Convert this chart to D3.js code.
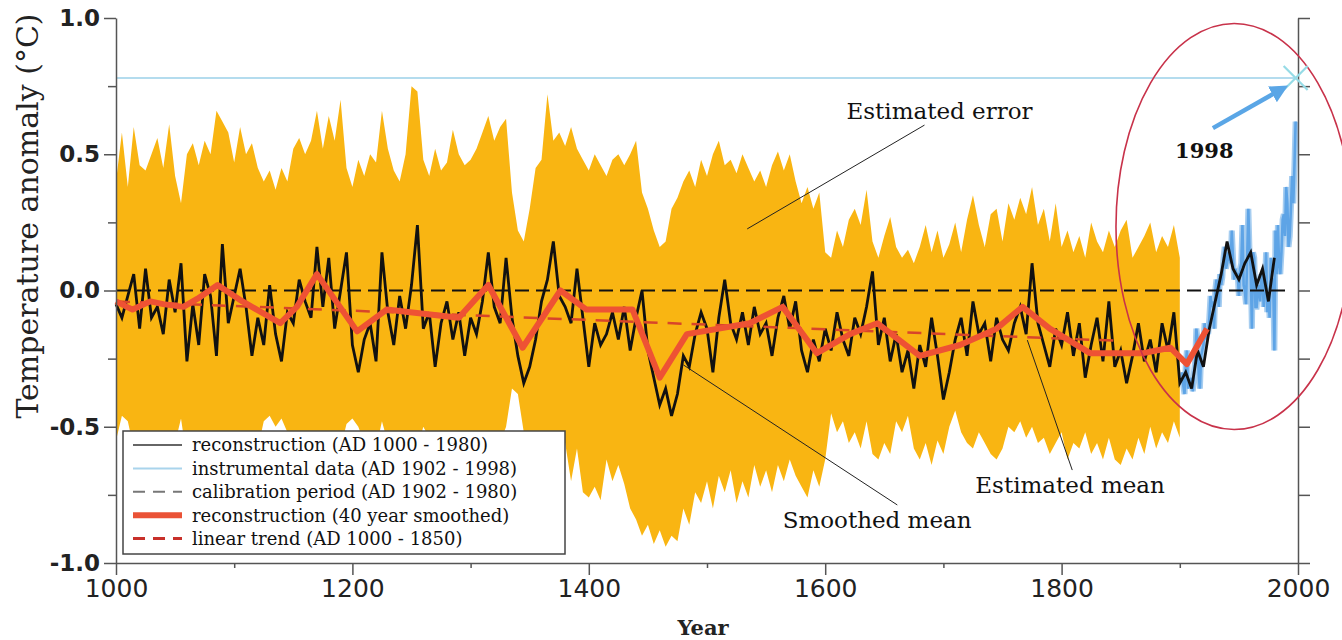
<!DOCTYPE html>
<html><head><meta charset="utf-8">
<script src="https://cdn.jsdelivr.net/npm/d3@7"></script>
<style>html,body{margin:0;padding:0;background:#fff;} svg{display:block;}</style>
</head><body>
<svg id="chart" width="1342" height="640"></svg>
<script>
// ---------------- DATA ----------------
const xTickValues = [1000, 1200, 1400, 1600, 1800, 2000];
const xMinorTicks = [1100, 1300, 1500, 1700, 1900];
const yTickValues = [-1.0, -0.5, 0.0, 0.5, 1.0];
const yMinorTicks = [-0.75, -0.25, 0.25, 0.75];

// reconstruction AD 1000-1980, one value every 5 years
const reconStart = 1000, reconStep = 5;
const reconValues = [
 -0.05,-0.10,-0.02, 0.06,-0.14, 0.08,-0.10,-0.06,-0.16, 0.04,
 -0.08, 0.10,-0.26,-0.05,-0.20, 0.06,-0.02,-0.24, 0.17,-0.12,
 -0.02, 0.08,-0.06,-0.24,-0.10,-0.20, 0.02,-0.16,-0.26,-0.08,
 -0.12, 0.04,-0.04,-0.10, 0.16,-0.06, 0.12,-0.14, 0.00, 0.14,
 -0.20,-0.30,-0.18,-0.12,-0.26, 0.14,-0.08,-0.20,-0.02,-0.14,
  0.02, 0.24,-0.14,-0.08,-0.28,-0.12,-0.04,-0.18,-0.08,-0.24,
 -0.10,-0.16,-0.04, 0.14,-0.06,-0.12, 0.12,-0.10,-0.24,-0.34,
 -0.28,-0.18,-0.04, 0.04, 0.18,-0.02,-0.06,-0.12, 0.08,-0.10,
 -0.28,-0.12,-0.20,-0.16,-0.08,-0.18,-0.06,-0.22,-0.10, 0.00,
 -0.22,-0.32,-0.42,-0.36,-0.46,-0.38,-0.24,-0.28,-0.16,-0.08,
 -0.14,-0.30,-0.10, 0.04,-0.12,-0.18,-0.08,-0.20,-0.06,-0.16,
 -0.12,-0.24,-0.10,-0.02,-0.14,-0.04,-0.22,-0.30,-0.18,-0.26,
 -0.14,-0.22,-0.08,-0.18,-0.24,-0.10,-0.16,-0.06, 0.07,-0.20,
 -0.10,-0.26,-0.16,-0.30,-0.22,-0.36,-0.20,-0.28,-0.10,-0.24,
 -0.40,-0.30,-0.18,-0.10,-0.24,-0.04,-0.16,-0.12,-0.26,-0.10,
 -0.18,-0.22,-0.12,-0.06,-0.16, 0.10,-0.12,-0.20,-0.28,-0.14,
 -0.20,-0.08,-0.24,-0.12,-0.32,-0.20,-0.10,-0.26,-0.04,-0.28,
 -0.22,-0.34,-0.24,-0.12,-0.26,-0.18,-0.30,-0.12,-0.22,-0.08,
 -0.34,-0.30,-0.36,-0.22,-0.28,-0.14,-0.04, 0.06, 0.18, 0.08,
  0.04, 0.10, 0.14, 0.02, 0.08,-0.04, 0.12
];

// estimated error band AD 1000-1900, every 5 years
const bandStart = 1000, bandStep = 5;
const bandUpper = [
 0.40,0.58,0.38,0.60,0.46,0.44,0.50,0.56,0.45,0.61,
 0.42,0.32,0.50,0.54,0.46,0.55,0.50,0.66,0.62,0.58,
 0.47,0.60,0.50,0.54,0.45,0.40,0.44,0.37,0.45,0.40,
 0.52,0.56,0.50,0.55,0.66,0.52,0.64,0.55,0.70,0.45,
 0.38,0.48,0.42,0.50,0.47,0.66,0.52,0.44,0.40,0.50,
 0.75,0.73,0.48,0.42,0.52,0.44,0.47,0.59,0.50,0.46,
 0.48,0.52,0.58,0.64,0.55,0.60,0.63,0.36,0.22,0.18,
 0.30,0.45,0.48,0.72,0.55,0.58,0.53,0.60,0.52,0.48,
 0.44,0.50,0.46,0.42,0.48,0.50,0.46,0.50,0.55,0.36,
 0.30,0.22,0.16,0.18,0.30,0.34,0.40,0.44,0.38,0.48,
 0.42,0.50,0.55,0.46,0.48,0.43,0.50,0.45,0.40,0.44,
 0.38,0.46,0.51,0.44,0.50,0.40,0.32,0.38,0.30,0.36,
 0.14,0.12,0.22,0.16,0.26,0.30,0.24,0.37,0.18,0.12,
 0.20,0.27,0.16,0.12,0.15,0.10,0.16,0.24,0.14,0.22,
 0.12,0.17,0.25,0.14,0.26,0.35,0.24,0.16,0.28,0.30,
 0.18,0.32,0.26,0.34,0.28,0.38,0.24,0.30,0.18,0.32,
 0.16,0.22,0.14,0.20,0.12,0.25,0.18,0.14,0.22,0.16,
 0.22,0.26,0.12,0.16,0.20,0.25,0.14,0.20,0.16,0.24,
 0.12
];
const bandLower = [
 -0.55,-0.46,-0.48,-0.58,-0.62,-0.58,-0.60,-0.62,-0.58,-0.60,
 -0.56,-0.47,-0.62,-0.58,-0.64,-0.56,-0.58,-0.62,-0.55,-0.60,
 -0.58,-0.55,-0.60,-0.64,-0.58,-0.48,-0.46,-0.50,-0.47,-0.52,
 -0.58,-0.56,-0.60,-0.58,-0.56,-0.60,-0.58,-0.62,-0.58,-0.49,
 -0.47,-0.50,-0.56,-0.60,-0.58,-0.48,-0.56,-0.60,-0.58,-0.62,
 -0.56,-0.58,-0.50,-0.54,-0.60,-0.56,-0.58,-0.60,-0.58,-0.62,
 -0.60,-0.58,-0.56,-0.60,-0.58,-0.56,-0.50,-0.36,-0.38,-0.52,
 -0.56,-0.58,-0.60,-0.56,-0.58,-0.60,-0.56,-0.70,-0.58,-0.74,
 -0.76,-0.72,-0.77,-0.62,-0.70,-0.64,-0.71,-0.80,-0.84,-0.90,
 -0.86,-0.93,-0.88,-0.94,-0.90,-0.92,-0.80,-0.86,-0.74,-0.78,
 -0.70,-0.80,-0.68,-0.74,-0.66,-0.78,-0.70,-0.76,-0.64,-0.72,
 -0.66,-0.74,-0.64,-0.70,-0.62,-0.68,-0.72,-0.76,-0.66,-0.72,
 -0.62,-0.45,-0.52,-0.48,-0.56,-0.52,-0.58,-0.48,-0.60,-0.62,
 -0.56,-0.60,-0.48,-0.52,-0.46,-0.58,-0.62,-0.56,-0.64,-0.55,
 -0.60,-0.50,-0.44,-0.52,-0.56,-0.58,-0.52,-0.56,-0.60,-0.62,
 -0.58,-0.50,-0.52,-0.48,-0.54,-0.50,-0.56,-0.54,-0.60,-0.56,
 -0.52,-0.62,-0.56,-0.58,-0.52,-0.60,-0.56,-0.62,-0.54,-0.62,
 -0.64,-0.58,-0.62,-0.54,-0.60,-0.50,-0.58,-0.52,-0.56,-0.48,
 -0.54
];

// instrumental data AD 1902-1998, yearly
const instStart = 1902;
const instValues = [
 -0.30,-0.35,-0.38,-0.28,-0.22,-0.36,-0.33,-0.35,-0.32,-0.37,
 -0.30,-0.26,-0.14,-0.18,-0.31,-0.36,-0.24,-0.22,-0.20,-0.12,
 -0.18,-0.14,-0.16,-0.10,-0.02,-0.06,-0.04,-0.14, 0.00, 0.04,
  0.02,-0.06, 0.06, 0.02, 0.05, 0.12, 0.16, 0.08, 0.10, 0.14,
  0.12, 0.10, 0.22, 0.12, 0.04, 0.08, 0.06, 0.06,-0.02, 0.08,
  0.10, 0.24, 0.02, 0.00,-0.05, 0.12, 0.30, 0.14, 0.08,-0.14,
  0.14, 0.12,-0.06,-0.06, 0.00, 0.02,-0.04, 0.06, 0.04,-0.06,
  0.02, 0.14,-0.08,-0.02,-0.10, 0.12, 0.04, 0.04,-0.22, 0.22,
  0.06, 0.24, 0.10, 0.06, 0.14, 0.26, 0.28, 0.20, 0.38, 0.32,
  0.16, 0.20, 0.30, 0.42, 0.32, 0.46, 0.62
];

// 40-year smoothed reconstruction (vertices)
const smoothYears  = [1000,1014,1029,1040,1057,1069,1086,1107,1139,1153,1170,1204,1229,1249,1290,1315,1344,1376,1398,1437,1460,1483,1536,1564,1593,1621,1644,1680,1714,1745,1767,1790,1824,1869,1892,1906,1923];
const smoothValues = [-0.04,-0.07,-0.04,-0.05,-0.06,-0.03,0.02,-0.04,-0.12,-0.06,0.06,-0.15,-0.07,-0.08,-0.10,0.02,-0.21,0.00,-0.07,-0.07,-0.32,-0.16,-0.12,-0.06,-0.23,-0.16,-0.12,-0.24,-0.20,-0.14,-0.06,-0.14,-0.23,-0.23,-0.21,-0.27,-0.14];

// linear trend AD 1000-1850
const trendYears  = [1000, 1850];
const trendValues = [-0.04, -0.185];

// zero (calibration) reference and 1998 level
const zeroYears = [1000, 1990];
const level1998Years = [1000, 1998];
const level1998 = 0.78;

// annotations in data units
const ellipseCenter = [1946, 0.235], ellipseHalf = [100, 0.745];
const arrowFrom = [1928, 0.596], arrowTo = [1985, 0.736];
const annoTexts = [
  {t:"Estimated error", yr:1618, v:0.63},
  {t:"Estimated mean",  yr:1727, v:-0.743},
  {t:"Smoothed mean",   yr:1564, v:-0.872}
];
const pointerLines = [
  [[1684, 0.607],[1534, 0.226]],
  [[1771,-0.182],[1809,-0.659]],
  [[1480,-0.273],[1661,-0.787]]
];
const legendItems = [
  {label:"reconstruction (AD 1000 - 1980)", color:"#333", w:1.5, dash:null},
  {label:"instrumental data (AD 1902 - 1998)", color:"#a9d4ec", w:2, dash:null},
  {label:"calibration period (AD 1902 - 1980)", color:"#777", w:2, dash:"12,8"},
  {label:"reconstruction (40 year smoothed)", color:"#ea5236", w:6, dash:null},
  {label:"linear trend (AD 1000 - 1850)", color:"#c8302a", w:3, dash:"12,8"}
];

// ---------------- CHART ----------------
const svg = d3.select("#chart");
const x = d3.scaleLinear().domain([1000, 2000]).range([116, 1298]);
const y = d3.scaleLinear().domain([-1, 1]).range([563, 18]);
const serif = "'DejaVu Serif', serif";
const sans = "'DejaVu Sans', sans-serif";

const band = bandUpper.map((u, i) => ({yr: bandStart + i*bandStep, hi: u, lo: bandLower[i]}));
svg.append("path").datum(band)
  .attr("d", d3.area().x(d => x(d.yr)).y0(d => y(d.lo)).y1(d => y(d.hi)))
  .attr("fill", "#f9b512");

const line = d3.line().x(d => x(d[0])).y(d => y(d[1]));

// 1998 level line
svg.append("path").datum(level1998Years.map(yr => [yr, level1998]))
  .attr("d", line).attr("stroke", "#b4dcee").attr("stroke-width", 2).attr("fill", "none");

// instrumental (light halo + line)
const instPts = instValues.map((v, i) => [instStart + i, v]);
svg.append("path").datum(instPts)
  .attr("d", line).attr("stroke", "#a6cdf0").attr("stroke-width", 6).attr("fill", "none");
svg.append("path").datum(instPts)
  .attr("d", line).attr("stroke", "#5ea4e6").attr("stroke-width", 2.6).attr("fill", "none");

// zero dashed
svg.append("path").datum(zeroYears.map(yr => [yr, 0]))
  .attr("d", line).attr("stroke", "#111").attr("stroke-width", 2)
  .attr("stroke-dasharray", "14,7").attr("fill", "none");

// reconstruction
svg.append("path").datum(reconValues.map((v, i) => [reconStart + i*reconStep, v]))
  .attr("d", line).attr("stroke", "#111").attr("stroke-width", 2.8)
  .attr("stroke-linejoin", "miter").attr("fill", "none");

// linear trend
svg.append("path").datum(trendYears.map((yr, i) => [yr, trendValues[i]]))
  .attr("d", line).attr("stroke", "#d8452a").attr("stroke-width", 2.5)
  .attr("stroke-dasharray", "14,10").attr("fill", "none");

// smoothed
svg.append("path").datum(smoothYears.map((yr, i) => [yr, smoothValues[i]]))
  .attr("d", line).attr("stroke", "#ee5234").attr("stroke-width", 6)
  .attr("stroke-linejoin", "round").attr("fill", "none");

// axes
const axisColor = "#555";
function styleAxis(g) {
  g.selectAll(".domain").attr("stroke", axisColor).attr("stroke-width", 1.5);
  g.selectAll(".tick line").attr("stroke", axisColor).attr("stroke-width", 1.5);
}
const fmt = d => d.toFixed(1);
const gL = svg.append("g").attr("transform", "translate(116,0)")
  .call(d3.axisLeft(y).tickValues(yTickValues).tickSize(12).tickSizeOuter(0).tickPadding(4).tickFormat(fmt));
styleAxis(gL);
gL.selectAll("text").attr("font-family", sans).attr("font-weight", "bold").attr("font-size", 23).attr("fill", "#222");
const gLm = svg.append("g").attr("transform", "translate(116,0)")
  .call(d3.axisLeft(y).tickValues(yMinorTicks).tickSize(8).tickFormat(""));
styleAxis(gLm); gLm.select(".domain").remove();

const gR = svg.append("g").attr("transform", "translate(1298,0)")
  .call(d3.axisRight(y).tickValues(yTickValues.concat(yMinorTicks)).tickSize(12).tickSizeOuter(0).tickFormat(""));
styleAxis(gR);

const gB = svg.append("g").attr("transform", "translate(0,563)")
  .call(d3.axisBottom(x).tickValues(xTickValues).tickSize(12).tickSizeOuter(0).tickPadding(4).tickFormat(d3.format("d")));
styleAxis(gB);
gB.selectAll("text").attr("font-family", sans).attr("font-size", 25).attr("fill", "#222");
const gBm = svg.append("g").attr("transform", "translate(0,563)")
  .call(d3.axisBottom(x).tickValues(xMinorTicks).tickSize(5).tickFormat(""));
styleAxis(gBm); gBm.select(".domain").remove();

// axis titles
svg.append("text").attr("transform", "translate(38,216) rotate(-90)")
  .attr("text-anchor", "middle").attr("font-family", serif).attr("font-size", 30).attr("fill", "#222")
  .text("Temperature anomaly (°C)");
svg.append("text").attr("x", 703).attr("y", 635).attr("text-anchor", "middle")
  .attr("font-family", serif).attr("font-weight", "bold").attr("font-size", 21).attr("fill", "#222")
  .text("Year");

// pointer lines
pointerLines.forEach(p => {
  svg.append("path").datum(p).attr("d", line).attr("stroke", "#222").attr("stroke-width", 1).attr("fill", "none");
});
annoTexts.forEach(a => {
  svg.append("text").attr("x", x(a.yr)).attr("y", y(a.v))
    .attr("font-family", serif).attr("font-size", 23).attr("fill", "#111").text(a.t);
});

// ellipse
svg.append("ellipse")
  .attr("cx", x(ellipseCenter[0])).attr("cy", y(ellipseCenter[1]))
  .attr("rx", x(ellipseCenter[0] + ellipseHalf[0]) - x(ellipseCenter[0]))
  .attr("ry", y(ellipseCenter[1] - ellipseHalf[1]) - y(ellipseCenter[1]))
  .attr("fill", "none").attr("stroke", "#c8324a").attr("stroke-width", 1.6);

// 1998 marker (X)
const mx = x(1998), my = y(level1998);
svg.append("path").attr("d", `M${mx-12},${my-12}L${mx+12},${my+12}M${mx-12},${my+12}L${mx+12},${my-12}`)
  .attr("stroke", "#96dbe6").attr("stroke-width", 2.2);

// arrow
const defs = svg.append("defs");
defs.append("marker").attr("id", "ah").attr("viewBox", "0 0 10 10").attr("refX", 5).attr("refY", 5)
  .attr("markerWidth", 4).attr("markerHeight", 4).attr("orient", "auto")
  .append("path").attr("d", "M0,0L10,5L0,10z").attr("fill", "#5aa6e6");
svg.append("path").datum([arrowFrom, arrowTo]).attr("d", line)
  .attr("stroke", "#5aa6e6").attr("stroke-width", 4.5).attr("fill", "none").attr("marker-end", "url(#ah)");
svg.append("text").attr("x", x(1896)).attr("y", y(0.486))
  .attr("font-family", serif).attr("font-weight", "bold").attr("font-size", 21).attr("fill", "#111").text("1998");

// legend
const lg = svg.append("g");
lg.append("rect").attr("x", 123).attr("y", 431).attr("width", 442).attr("height", 123)
  .attr("fill", "#fff").attr("stroke", "#444").attr("stroke-width", 1.5);
legendItems.forEach((it, i) => {
  const yy = 445 + i*23.4;
  lg.append("line").attr("x1", 133).attr("x2", 182).attr("y1", yy).attr("y2", yy)
    .attr("stroke", it.color).attr("stroke-width", it.w).attr("stroke-dasharray", it.dash);
  lg.append("text").attr("x", 192).attr("y", yy).attr("dy", "0.35em")
    .attr("font-family", serif).attr("font-size", 18).attr("fill", "#111").text(it.label);
});
</script>
</body></html>
